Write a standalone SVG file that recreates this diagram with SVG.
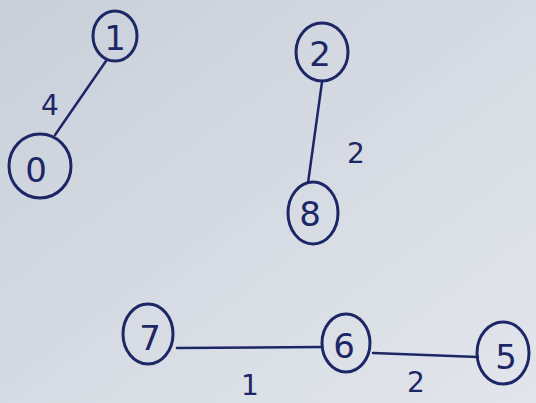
<svg xmlns="http://www.w3.org/2000/svg" width="536" height="403" viewBox="0 0 536 403">
<defs>
<linearGradient id="bg" x1="0" y1="0" x2="1" y2="1">
<stop offset="0" stop-color="#c9cfd9"/>
<stop offset="0.5" stop-color="#d6dbe3"/>
<stop offset="1" stop-color="#e2e5eb"/>
</linearGradient>
<style>
.n ellipse{fill:none;stroke:#1d2766;stroke-width:3}
.t{font-family:"DejaVu Sans",sans-serif;font-size:34px;fill:#1d2766;text-anchor:middle;dominant-baseline:central}
.e line{stroke:#1d2766;stroke-width:2.5;stroke-linecap:round}
.l{font-family:"DejaVu Sans",sans-serif;font-size:28px;fill:#1d2766;text-anchor:middle;dominant-baseline:central}
</style>
</defs>
<rect width="536" height="403" fill="url(#bg)"/>
<g id="edges" class="e">
<line x1="106" y1="61" x2="55" y2="135"/>
<line x1="322" y1="82" x2="308" y2="183"/>
<line x1="177" y1="348" x2="322" y2="347"/>
<line x1="373" y1="353" x2="478" y2="357"/>
</g>
<g id="labels">
<text class="l" x="50" y="105">4</text>
<text class="l" x="356" y="153">2</text>
<text class="l" x="250" y="385">1</text>
<text class="l" x="416" y="382">2</text>
</g>
<g id="node1" class="n"><ellipse cx="115" cy="36" rx="22" ry="25"/><text class="t" x="115" y="38">1</text></g>
<g id="node0" class="n"><ellipse cx="40" cy="166" rx="31" ry="32"/><text class="t" x="36" y="170">0</text></g>
<g id="node2" class="n"><ellipse cx="322" cy="52" rx="26" ry="29"/><text class="t" x="320" y="54">2</text></g>
<g id="node8" class="n"><ellipse cx="313" cy="213" rx="25" ry="31"/><text class="t" x="310" y="214">8</text></g>
<g id="node7" class="n"><ellipse cx="148" cy="334" rx="25" ry="30"/><text class="t" x="150" y="338">7</text></g>
<g id="node6" class="n"><ellipse cx="346" cy="343" rx="24" ry="29"/><text class="t" x="344" y="346">6</text></g>
<g id="node5" class="n"><ellipse cx="503" cy="353" rx="26" ry="31"/><text class="t" x="506" y="357">5</text></g>
</svg>
